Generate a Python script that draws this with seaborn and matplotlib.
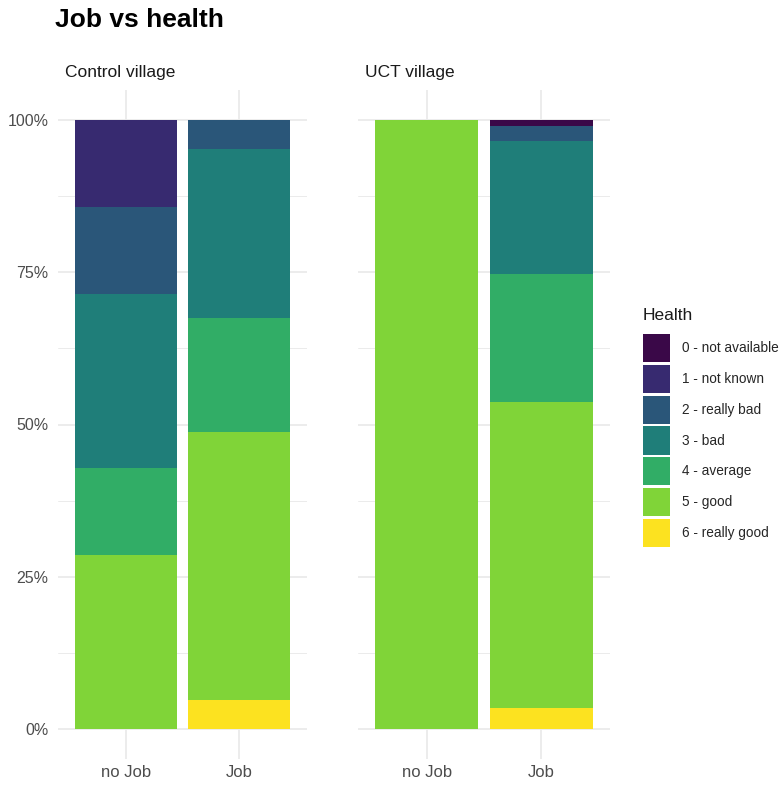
import numpy as np
import pandas as pd
import matplotlib
matplotlib.use("Agg")
import matplotlib.pyplot as plt
from matplotlib.patches import Patch
import seaborn as sns

sns.set_theme(style="white")
plt.rcParams['font.family'] = ['Liberation Sans', 'DejaVu Sans']

# ---- data ----
health_levels = ["0 - not available", "1 - not known", "2 - really bad", "3 - bad",
                 "4 - average", "5 - good", "6 - really good"]
job_levels = ["no Job", "Job"]
villages = ["Control village", "UCT village"]
# counts per health level (0..6)
control_nojob = [0, 1, 1, 2, 1, 2, 0]
control_job = [0, 0, 2, 12, 8, 19, 2]
uct_nojob = [0, 0, 0, 0, 0, 10, 0]
uct_job = [1, 0, 3, 26, 25, 60, 4]
y_ticks = [0, 0.25, 0.5, 0.75, 1.0]
y_labels = ["0%", "25%", "50%", "75%", "100%"]

colors = ["#3A0848", "#372A70", "#2A5679", "#1F7E79", "#31AD66", "#80D438", "#FCE220"]

counts = {
    "Control village": {"no Job": control_nojob, "Job": control_job},
    "UCT village": {"no Job": uct_nojob, "Job": uct_job},
}

W, H = 779, 785
fig = plt.figure(figsize=(W / 100, H / 100), dpi=100)

panels = [(58, 307), (358, 610)]
top_px, bot_px = 90, 759

grid_c = "#EBEBEB"
for vi, village in enumerate(villages):
    x0, x1 = panels[vi]
    ax = fig.add_axes([x0 / W, (H - bot_px) / H, (x1 - x0) / W, (bot_px - top_px) / H])
    rows = []
    for j in job_levels:
        for hl, c in zip(health_levels, counts[village][j]):
            rows.append({"job": job_levels.index(j), "health": hl, "n": c})
    df = pd.DataFrame(rows)
    sns.histplot(data=df, x="job", hue="health", weights="n", hue_order=health_levels,
                 multiple="fill", discrete=True, shrink=0.9, palette=colors,
                 linewidth=0, alpha=1, legend=False, ax=ax, zorder=3)
    ax.set_xlim(-0.6, 1.6)
    ax.set_ylim(-0.05, 1.05)
    for s in ax.spines.values():
        s.set_visible(False)
    # grid
    for yv in y_ticks:
        ax.axhline(yv, color=grid_c, lw=1.3, zorder=0)
    for yv in [0.125, 0.375, 0.625, 0.875]:
        ax.axhline(yv, color=grid_c, lw=0.7, zorder=0)
    for xv in [0, 1]:
        ax.axvline(xv, color=grid_c, lw=1.3, zorder=0)
    ax.set_xticks([0, 1])
    ax.set_xticklabels(job_levels, fontsize=12, color="#4D4D4D")
    ax.tick_params(axis="x", length=0, pad=4)
    ax.set_xlabel("")
    ax.set_ylabel("")
    if vi == 0:
        ax.set_yticks(y_ticks)
        ax.set_yticklabels(y_labels, fontsize=11.5, color="#4D4D4D")
        ax.tick_params(axis="y", length=0, pad=7)
    else:
        ax.set_yticks([])
    fig.text((x0 + 7) / W, 1 - 73 / H, village, fontsize=12.5, color="#1A1A1A",
             ha="left", va="center")

fig.text(55 / W, 1 - 20 / H, "Job vs health", fontsize=19, fontweight="bold",
         ha="left", va="center", color="black")

fig.text(643 / W, 1 - 315 / H, "Health", fontsize=12.5, color="#1A1A1A",
         ha="left", va="center")
handles = [Patch(facecolor=c, edgecolor="none") for c in colors]
leg = fig.legend(handles, health_levels, loc="upper left",
                 bbox_to_anchor=(643 / W, 1 - 334 / H), frameon=False,
                 fontsize=9.8, borderpad=0,
                 handlelength=1.95, handleheight=2.8, labelspacing=0.2,
                 handletextpad=0.95, borderaxespad=0)

fig.savefig("out.png", dpi=100, facecolor="white")
